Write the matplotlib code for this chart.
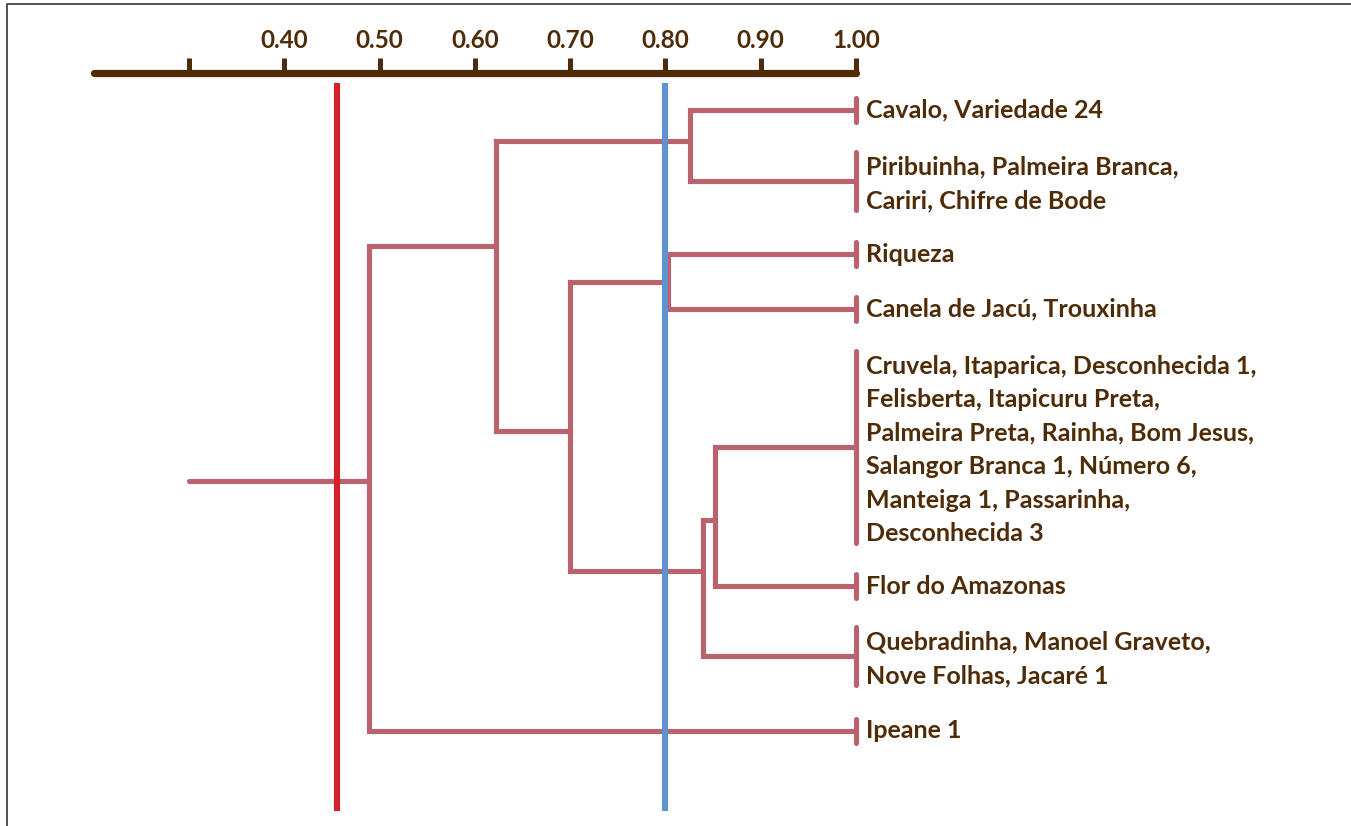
import matplotlib
matplotlib.use("Agg")
import matplotlib.pyplot as plt
from matplotlib.lines import Line2D

# ---------------- data ----------------
leaf_labels = [
    "Cavalo, Variedade 24",
    "Piribuinha, Palmeira Branca,\nCariri, Chifre de Bode",
    "Riqueza",
    "Canela de Jacú, Trouxinha",
    "Cruvela, Itaparica, Desconhecida 1,\nFelisberta, Itapicuru Preta,\nPalmeira Preta, Rainha, Bom Jesus,\nSalangor Branca 1, Número 6,\nManteiga 1, Passarinha,\nDesconhecida 3",
    "Flor do Amazonas",
    "Quebradinha, Manoel Graveto,\nNove Folhas, Jacaré 1",
    "Ipeane 1",
]
leaf_similarity = 1.00
# layout rows (vertical position of each leaf, top = small)
leaf_rows = [110, 181, 254, 309, 447, 586, 656, 731]

# merges: (left node, right node, similarity, row of junction)
merge_left = [0, 2, 4, 10, 9, 8, 13]
merge_right = [1, 3, 5, 6, 11, 12, 7]
merge_similarity = [0.826, 0.803, 0.852, 0.839, 0.700, 0.622, 0.489]
merge_rows = [141, 282, 520, 571, 431, 246, 481]
root_start = 0.30

tick_values = [0.30, 0.40, 0.50, 0.60, 0.70, 0.80, 0.90, 1.00]
tick_labels = ["", "0.40", "0.50", "0.60", "0.70", "0.80", "0.90", "1.00"]
axis_start = 0.20

red_cut = 0.455
blue_cut = 0.80

# ---------------- style ----------------
BROWN = "#4e2c08"
PINK = "#b9636f"
RED = "#d42029"
BLUE = "#5d93cf"
FONT = "Lato"

W, H = 1351, 826
fig = plt.figure(figsize=(W / 100, H / 100), dpi=100)
ax = fig.add_axes([0, 0, 1, 1])
ax.set_xlim(1 - 856 / 953, 1 + (W - 856) / 953)
ax.set_ylim(H, 0)
ax.set_facecolor("white")
ax.set_yticks([])
for s in ["left", "right", "bottom"]:
    ax.spines[s].set_visible(False)

# top axis as real matplotlib axis
ax.xaxis.tick_top()
ax.spines["top"].set_position(("data", 73))
ax.spines["top"].set_bounds(axis_start, 1.0)
ax.spines["top"].set_color(BROWN)
ax.spines["top"].set_linewidth(5.2)
ax.spines["top"].set_capstyle("round")
ax.set_xticks(tick_values)
ax.set_xticklabels(tick_labels, fontfamily=FONT, fontweight="bold",
                   fontsize=17.5, color=BROWN)
ax.tick_params(axis="x", direction="out", length=11, width=3.6,
               color=BROWN, pad=4)

# ---------------- dendrogram ----------------
node_x = [leaf_similarity] * len(leaf_labels)
node_y = list(leaf_rows)
lw = 3.7
for l, r, h, yrow in zip(merge_left, merge_right, merge_similarity, merge_rows):
    xs = [node_x[l], h, h, node_x[r]]
    ys = [node_y[l], node_y[l], node_y[r], node_y[r]]
    ax.plot(xs, ys, color=PINK, lw=lw, solid_joinstyle="miter",
            solid_capstyle="butt", zorder=2)
    node_x.append(h)
    node_y.append(yrow)
# root stem
ax.plot([root_start, node_x[-1]], [node_y[-1], node_y[-1]], color=PINK,
        lw=lw, solid_capstyle="round", zorder=2)

# leaf caps and labels
line_h = 33.6
for lab, y in zip(leaf_labels, leaf_rows):
    n = lab.count("\n") + 1
    half = (n * line_h - 9) / 2
    ax.plot([leaf_similarity, leaf_similarity], [y - half, y + half],
            color=PINK, lw=lw, solid_capstyle="round", zorder=2)
    ax.text(leaf_similarity + 10 / 953, y + (3 if n > 1 else 0), lab,
            ha="left", va="center",
            fontfamily=FONT, fontweight="bold", fontsize=18, color=BROWN,
            linespacing=1.55)

# cut lines
ax.plot([red_cut, red_cut], [83, 811], color=RED, lw=4.4,
        solid_capstyle="butt", zorder=3)
ax.plot([blue_cut, blue_cut], [83, 811], color=BLUE, lw=4.4,
        solid_capstyle="butt", zorder=3)

# frame (left + top)
fig.add_artist(Line2D([7 / W, 7 / W, 1.0], [0, 1 - 4 / H, 1 - 4 / H],
                      transform=fig.transFigure, color="#333333", lw=1.2))

fig.savefig("out.png", dpi=100)
